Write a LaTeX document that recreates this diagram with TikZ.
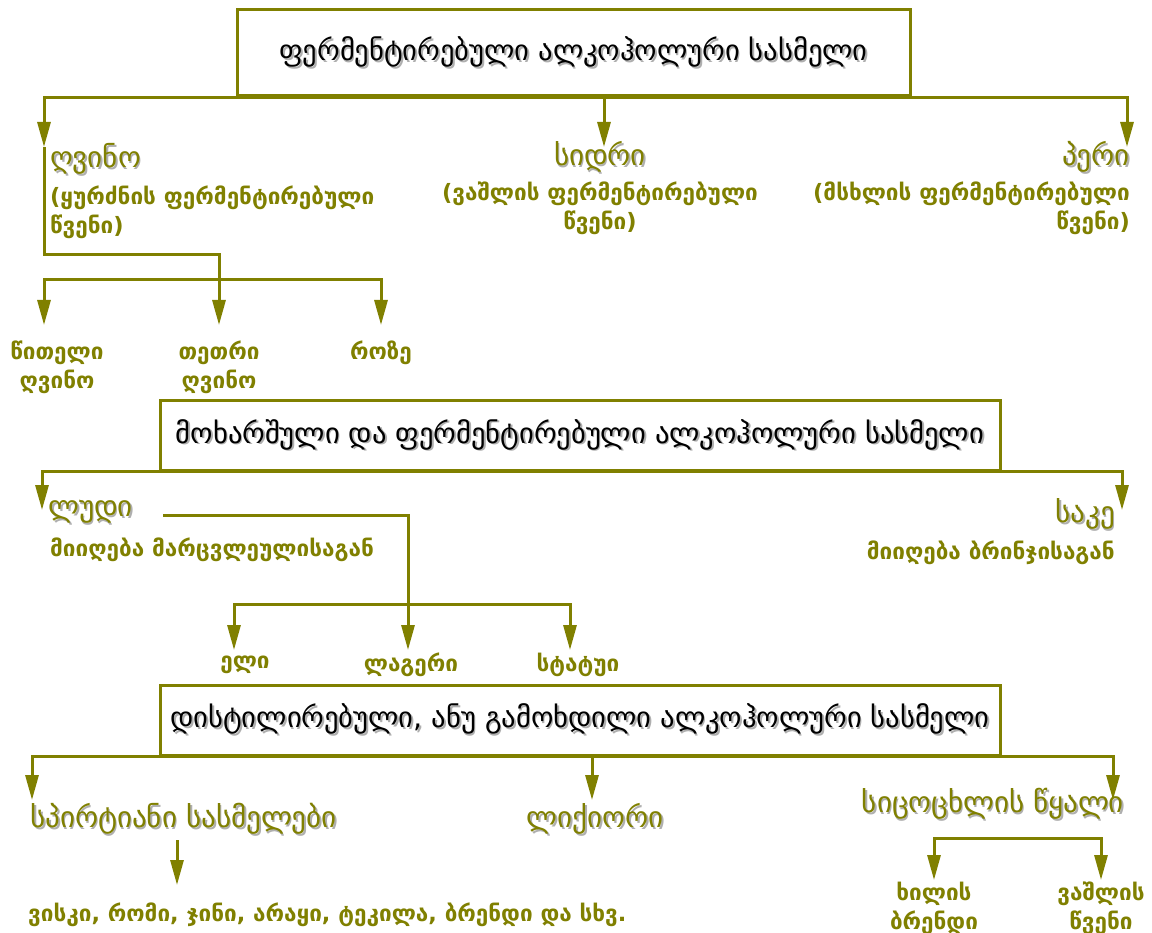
\documentclass[tikz,border=0pt]{standalone}
\usepackage{fontspec}
\setmainfont{DejaVu Sans}
\usetikzlibrary{arrows.meta}
\definecolor{olv}{RGB}{128,128,0}
\definecolor{shdw}{RGB}{175,175,175}
\newcommand\shd[1]{\leavevmode\rlap{\kern1.8pt\raisebox{-1.8pt}{\textcolor{shdw}{#1}}}#1}
\tikzset{
  box/.style={draw=olv, line width=3pt, fill=white, inner sep=0pt},
  ln/.style={draw=olv, line width=3pt},
  arr/.style={ln, -{Triangle[width=13pt,length=25pt]}},
  hd/.style={text=olv, font=\fontsize{29}{32}\selectfont, inner sep=0pt},
  lb/.style={text=olv, font=\bfseries\fontsize{22.5}{29}\selectfont, inner sep=0pt},
  bt/.style={font=\fontsize{28.5}{32}\selectfont},
}
\begin{document}
\begin{tikzpicture}[x=1pt,y=-1pt]
\useasboundingbox[fill=white] (0,0) rectangle (1152,933);

% boxes
\node[box, bt, minimum width=673pt, minimum height=86pt] (b1) at (573.5,53) {\shd{ფერმენტირებული ალკოჰოლური სასმელი}};
\node[box, bt, minimum width=840pt, minimum height=69pt] (b2) at (580,435.5) {\shd{მოხარშული და ფერმენტირებული ალკოჰოლური სასმელი}};
\node[box, bt, minimum width=840pt, minimum height=70pt] (b3) at (580,720) {\shd{დისტილირებული, ანუ გამოხდილი ალკოჰოლური სასმელი}};

% level 1 labels
\node[hd, anchor=west] (wine) at (50,160) {\shd{ღვინო}};
\node[lb, anchor=north west, align=left] (wineS) at (50,186) {(ყურძნის ფერმენტირებული\\წვენი)};
\node[hd] (cider) at (600,158) {\shd{სიდრი}};
\node[lb, anchor=north, align=center] (ciderS) at (600,182) {(ვაშლის ფერმენტირებული\\წვენი)};
\node[hd, anchor=east] (perry) at (1130,158) {\shd{პერი}};
\node[lb, anchor=north east, align=right] (perryS) at (1130,182) {(მსხლის ფერმენტირებული\\წვენი)};

\node[lb, align=center] (red) at (57,367) {წითელი\\ღვინო};
\node[lb, align=center] (white) at (219,367) {თეთრი\\ღვინო};
\node[lb] (rose) at (381,353) {როზე};

% level 2 labels
\node[hd, anchor=west] (beer) at (48,513) {\shd{ლუდი}};
\node[lb, anchor=west] (beerS) at (50,550) {მიიღება მარცვლეულისაგან};
\node[hd, anchor=east] (sake) at (1115,515) {\shd{საკე}};
\node[lb, anchor=east] (sakeS) at (1115,553) {მიიღება ბრინჯისაგან};
\node[lb] (ale) at (245,665) {ელი};
\node[lb] (lager) at (411,665) {ლაგერი};
\node[lb] (stout) at (578,665) {სტატუი};

% level 3 labels
\node[hd, anchor=west] (spirit) at (30,820) {\shd{სპირტიანი სასმელები}};
\node[hd] (liq) at (595,820) {\shd{ლიქიორი}};
\node[hd] (water) at (993,805) {\shd{სიცოცხლის წყალი}};
\node[lb, anchor=west] (list) at (28,915) {ვისკი, რომი, ჯინი, არაყი, ტეკილა, ბრენდი და სხვ.};
\node[lb, align=center] (fruit) at (934,908) {ხილის\\ბრენდი};
\node[lb, align=center] (apple) at (1101,908) {ვაშლის\\წვენი};

% coordinates
\coordinate (t1a) at (44,147);
\coordinate (t1b) at (604,147);
\coordinate (t1c) at (1127,147);
\coordinate (wj) at (219,255);
\coordinate (wbus) at (219,280);
\coordinate (tred) at (44,325);
\coordinate (twhite) at (219,325);
\coordinate (trose) at (381,325);
\coordinate (t2a) at (42,510);
\coordinate (t2b) at (1122,510);
\coordinate (ls) at (163,515);
\coordinate (lbus) at (408,604);
\coordinate (tale) at (234,650);
\coordinate (tlager) at (408,650);
\coordinate (tstout) at (570,650);
\coordinate (t3a) at (32,800);
\coordinate (t3b) at (592,800);
\coordinate (t3c) at (1113,800);
\coordinate (sa) at (177,840);
\coordinate (sb) at (177,885);
\coordinate (wb) at (1017,838);
\coordinate (tfruit) at (934,880);
\coordinate (tapple) at (1101,880);

% connectors level 1
\draw[arr] (b1.south) -| (t1a);
\draw[arr] (b1.south -| t1b) -- (t1b);
\draw[arr] (b1.south) -| (t1c);
\draw[ln] (t1a) |- (wj) -- (wbus);
\draw[arr] (wbus) -| (tred);
\draw[arr] (wbus) -- (twhite);
\draw[arr] (wbus) -| (trose);

% connectors level 2
\draw[arr] (b2.south) -| (t2a);
\draw[arr] (b2.south) -| (t2b);
\draw[arr] (ls) -| (tlager);
\draw[arr] (lbus) -| (tale);
\draw[arr] (lbus) -| (tstout);

% connectors level 3
\draw[arr] (b3.south) -| (t3a);
\draw[arr] (b3.south) -| (t3b);
\draw[arr] (b3.south) -| (t3c);
\draw[arr] (sa) -- (sb);
\draw[arr] (wb) -| (tfruit);
\draw[arr] (wb) -| (tapple);
\end{tikzpicture}
\end{document}
